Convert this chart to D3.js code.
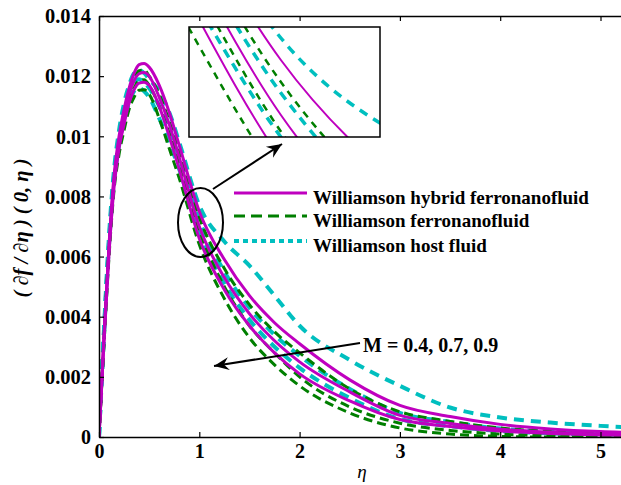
<!DOCTYPE html>
<html><head><meta charset="utf-8">
<script src="https://cdn.jsdelivr.net/npm/d3@7"></script>
<style>body{margin:0;background:#fff}svg{display:block}</style>
</head><body><svg id="c" width="621" height="485"></svg>
<script>
// ---- data ----
const eta = [0,0.05,0.1,0.15,0.2,0.25,0.3,0.35,0.4,0.45,0.5,0.6,0.7,0.8,1.0,1.25,1.5,1.75,2.0,2.5,3.0,3.5,4.0,4.5,5.0,5.4];
const hybridM04 = [0,0.0034,0.0064,0.0087,0.0100,0.0109,0.0116,0.0121,0.01238,0.01242,0.0123,0.0117,0.0108,0.0097,0.0075,0.0059,0.0047,0.0038,0.0031,0.0019,0.00105,0.00068,0.00042,0.00027,0.00018,0.00014];
const hybridM07 = [0,0.0033,0.0063,0.0085,0.0098,0.0107,0.0114,0.01185,0.01208,0.01212,0.0120,0.0113,0.0104,0.0093,0.0070,0.0053,0.0041,0.0032,0.0025,0.0015,0.00072,0.00045,0.00026,0.00016,0.0001,0.00008];
const hybridM09 = [0,0.0032,0.0061,0.0083,0.0096,0.0104,0.0111,0.01155,0.01177,0.0118,0.0117,0.0110,0.0100,0.0089,0.0066,0.0049,0.0037,0.0028,0.0021,0.0012,0.00058,0.00035,0.0002,0.00012,0.00007,0.00005];
const ferroM04 = [0,0.0033,0.0063,0.0085,0.0098,0.0107,0.0114,0.0119,0.01218,0.0122,0.0120,0.0114,0.0105,0.0095,0.0073,0.0056,0.0044,0.0035,0.0028,0.0016,0.00084,0.00052,0.0003,0.00018,0.0001,0.00007];
const ferroM07 = [0,0.0032,0.0062,0.0084,0.0096,0.0105,0.0112,0.0116,0.01185,0.01188,0.0117,0.0110,0.0101,0.0091,0.00685,0.0050,0.0037,0.0028,0.0020,0.0010,0.00046,0.00022,0.0001,0.00004,0.00002,0];
const ferroM09 = [0,0.0031,0.0060,0.0082,0.0094,0.0102,0.0109,0.0113,0.01153,0.01155,0.0114,0.0106,0.0096,0.0086,0.0064,0.0046,0.0033,0.0024,0.0017,0.0008,0.0003,0.0001,0.00002,0,0,0];
const hostM04 = [0,0.0036,0.0067,0.0089,0.0102,0.0111,0.0117,0.0121,0.0122,0.0121,0.0119,0.0115,0.0108,0.0098,0.0077,0.0065,0.0057,0.0047,0.0037,0.00256,0.0017,0.00098,0.00065,0.00048,0.00037,0.0003];
const hostM07 = [0,0.0035,0.0065,0.0087,0.0100,0.0108,0.0114,0.0118,0.0119,0.0118,0.0116,0.0110,0.0102,0.0093,0.0072,0.0055,0.0043,0.0034,0.0027,0.0016,0.0008,0.0005,0.00028,0.00018,0.00012,0.0001];
const hostM09 = [0,0.0034,0.0064,0.0085,0.0097,0.0105,0.0111,0.0115,0.0116,0.0115,0.0113,0.0106,0.0098,0.0089,0.0068,0.0051,0.0039,0.0030,0.0023,0.0013,0.0006,0.00036,0.0002,0.00012,0.00008,0.00006];
const xTicks = [0,1,2,3,4,5];
const yTicks = [0,0.002,0.004,0.006,0.008,0.01,0.012,0.014];
const yTickLabels = ["0","0.002","0.004","0.006","0.008","0.01","0.012","0.014"];
const legendLabels = ["Williamson hybrid ferronanofluid","Williamson ferronanofluid","Williamson host fluid"];
const annotation = "M = 0.4, 0.7, 0.9";
const xLabel = "η";
const yLabel = "( ∂f / ∂η ) ( 0, η )";

// ---- styles ----
const MAG="#bf00bf", GRN="#007f00", CYN="#00bfbf";
const styles = {
  host:{color:CYN,width:4,dash:"10,7",ldash:"5,4"},
  ferro:{color:GRN,width:3,dash:"9,5",ldash:"11,6"},
  hybrid:{color:MAG,width:3,dash:null,ldash:null}
};
const series = [
  {k:"host",v:hostM04},{k:"host",v:hostM07},{k:"host",v:hostM09},
  {k:"ferro",v:ferroM04},{k:"ferro",v:ferroM07},{k:"ferro",v:ferroM09},
  {k:"hybrid",v:hybridM04},{k:"hybrid",v:hybridM07},{k:"hybrid",v:hybridM09}
];

const svg = d3.select("#c");
svg.append("rect").attr("width",621).attr("height",485).attr("fill","#fff");
const L=99, T=16, B=437, pxPerUnit=100.3, xMax=5.3;
const x = d3.scaleLinear().domain([0,xMax]).range([L, L+xMax*pxPerUnit]);
const y = d3.scaleLinear().domain([0,0.014]).range([B,T]);
const R = x(xMax);

const defs = svg.append("defs");
defs.append("clipPath").attr("id","plotclip").append("rect")
  .attr("x",L).attr("y",T).attr("width",R-L).attr("height",B-T);

const line = (xs,ys)=>d3.line().x((d,i)=>xs(eta[i])).y(d=>ys(d)).curve(d3.curveMonotoneX);

const gp = svg.append("g").attr("clip-path","url(#plotclip)");
series.forEach(s=>{
  const st=styles[s.k];
  gp.append("path").attr("d",line(x,y)(s.v)).attr("fill","none")
    .attr("stroke",st.color).attr("stroke-width",st.width)
    .attr("stroke-dasharray",st.dash).attr("stroke-linejoin","round");
});

// ---- axes ----
const font = "'Liberation Serif','Times New Roman',serif";
const axB = svg.append("g").attr("transform",`translate(0,${B})`)
  .call(d3.axisBottom(x).tickValues(xTicks).tickSizeInner(-5).tickSizeOuter(0).tickPadding(9).tickFormat(d3.format("d")));
const axT = svg.append("g").attr("transform",`translate(0,${T})`)
  .call(d3.axisTop(x).tickValues(xTicks).tickSizeInner(-5).tickSizeOuter(0).tickFormat(""));
const axL = svg.append("g").attr("transform",`translate(${L},0)`)
  .call(d3.axisLeft(y).tickValues(yTicks).tickSizeInner(-5).tickSizeOuter(0).tickPadding(8).tickFormat((d,i)=>yTickLabels[i]));
[axB,axT,axL].forEach(a=>{
  a.select(".domain").attr("stroke","#000").attr("stroke-width",1.5);
  a.selectAll(".tick line").attr("stroke","#000").attr("stroke-width",1.2);
  a.selectAll("text").attr("font-family",font).attr("font-weight","bold").attr("font-size",20).attr("fill","#000");
});
axL.selectAll("text").attr("dy","0.34em").attr("textLength",function(){return this.textContent.length>1? (this.textContent.length==4?35:46):null;}).attr("lengthAdjust","spacingAndGlyphs");
axB.selectAll("text").attr("dy","0.62em");

// axis labels
svg.append("text").attr("x",362).attr("y",478).attr("text-anchor","middle")
  .attr("font-family",font).attr("font-style","italic").attr("font-size",19).text(xLabel);
svg.append("text").attr("transform","translate(28,228) rotate(-90)").attr("text-anchor","middle")
  .attr("font-family",font).attr("font-style","italic").attr("font-weight","bold").attr("font-size",20.5)
  .text(yLabel);

// ---- legend ----
const legY=[193,216,241];
["hybrid","ferro","host"].forEach((k,i)=>{
  const st=styles[k];
  svg.append("line").attr("x1",234).attr("x2",307).attr("y1",legY[i]).attr("y2",legY[i])
    .attr("stroke",st.color).attr("stroke-width",st.width).attr("stroke-dasharray",st.ldash);
  svg.append("text").attr("x",313).attr("y",legY[i]+10.5).attr("font-family",font)
    .attr("font-weight","bold").attr("font-size",19).text(legendLabels[i]);
});

// ---- ellipse + arrows ----
svg.append("ellipse").attr("cx",200.5).attr("cy",222.5).attr("rx",22.5).attr("ry",34.5)
  .attr("fill","none").attr("stroke","#000").attr("stroke-width",2);
function arrow(x1,y1,x2,y2){
  svg.append("line").attr("x1",x1).attr("y1",y1).attr("x2",x2).attr("y2",y2)
    .attr("stroke","#000").attr("stroke-width",2);
  const a=Math.atan2(y2-y1,x2-x1), len=15, w=6.5, notch=10;
  const p=(d,o)=>[x2-d*Math.cos(a)-o*Math.sin(a), y2-d*Math.sin(a)+o*Math.cos(a)];
  const pts=[[x2,y2],p(len,w),p(notch,0),p(len,-w)];
  svg.append("path").attr("d","M"+pts.map(q=>q.join(",")).join("L")+"Z").attr("fill","#000");
}
arrow(213,189,282,144);
arrow(360,343,214,366);
svg.append("text").attr("x",363).attr("y",352).attr("font-family",font)
  .attr("font-weight","bold").attr("font-size",20).text(annotation);

// ---- inset ----
const I={x0:189,y0:27,x1:380,y1:137};
svg.append("rect").attr("x",I.x0).attr("y",I.y0).attr("width",I.x1-I.x0).attr("height",I.y1-I.y0)
  .attr("fill","#fff");
defs.append("clipPath").attr("id","insetclip").append("rect")
  .attr("x",I.x0).attr("y",I.y0).attr("width",I.x1-I.x0).attr("height",I.y1-I.y0);
const xi = d3.scaleLinear().domain([0.873,1.137]).range([I.x0,I.x1]);
const yi = d3.scaleLinear().domain([0.0068,0.0078]).range([I.y1,I.y0]);
const gi = svg.append("g").attr("clip-path","url(#insetclip)");
series.forEach(s=>{
  const st=styles[s.k];
  gi.append("path").attr("d",line(xi,yi)(s.v)).attr("fill","none")
    .attr("stroke",st.color).attr("stroke-width",s.k==="hybrid"?2:st.width-0.5)
    .attr("stroke-dasharray",s.k==="hybrid"?null:(s.k==="ferro"?"7,6":"9,7"));
});
svg.append("rect").attr("x",I.x0).attr("y",I.y0).attr("width",I.x1-I.x0).attr("height",I.y1-I.y0)
  .attr("fill","none").attr("stroke","#000").attr("stroke-width",1.5);
</script></body></html>
